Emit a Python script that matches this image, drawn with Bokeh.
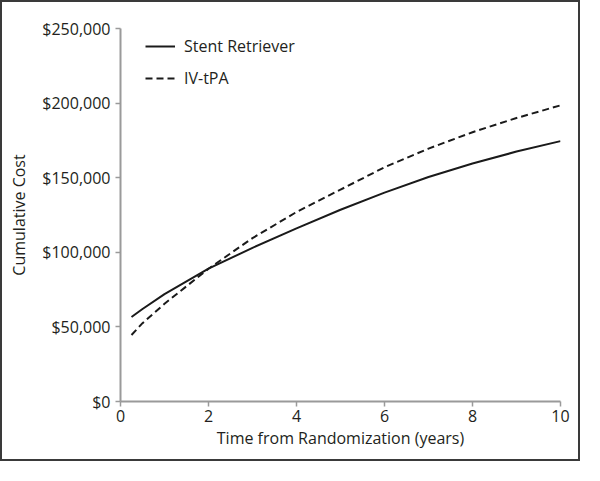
from bokeh.plotting import figure
from bokeh.models import ColumnDataSource, Range1d, NumeralTickFormatter, FixedTicker, Legend, LegendItem
from bokeh.embed import file_html
from bokeh.resources import INLINE

# Data
years = [0.25, 0.5, 1, 2, 3, 4, 5, 6, 7, 8, 9, 10]
stent_retriever = [56600, 62000, 72000, 89000, 103000, 116000, 128500, 140000, 150500, 159500, 167500, 174500]
iv_tpa = [44600, 52500, 65500, 89000, 109500, 127000, 142000, 157000, 169500, 180500, 190000, 198500]

x_ticks = [0, 2, 4, 6, 8, 10]
y_ticks = [0, 50000, 100000, 150000, 200000, 250000]

FONT = "Open Sans"
TEXT = "#231f20"
AXIS = "#9a9a9a"

p = figure(width=580, height=461, output_backend="svg", toolbar_location=None,
           x_range=Range1d(0, 10), y_range=Range1d(0, 250000),
           min_border_left=118, min_border_right=22, min_border_top=26, min_border_bottom=62)
p.styles = {"border": "2px solid #3a3a3a"}
p.outline_line_color = None
p.xgrid.visible = False
p.ygrid.visible = False
p.background_fill_color = "white"
p.border_fill_color = "white"

src = ColumnDataSource(dict(x=years, sr=stent_retriever, iv=iv_tpa))
r1 = p.line("x", "sr", source=src, line_color="#1a1a1a", line_width=2)
r2 = p.line("x", "iv", source=src, line_color="#1a1a1a", line_width=2, line_dash="7 4")

p.xaxis.ticker = FixedTicker(ticks=x_ticks)
p.yaxis.ticker = FixedTicker(ticks=y_ticks)
p.yaxis.formatter = NumeralTickFormatter(format="$0,0")
p.xaxis.axis_label = "Time from Randomization (years)"
p.yaxis.axis_label = "Cumulative Cost"

for ax in (p.xaxis, p.yaxis):
    ax.axis_line_color = AXIS
    ax.axis_line_width = 2
    ax.major_tick_line_color = AXIS
    ax.major_tick_line_width = 1.5
    ax.major_tick_out = 5
    ax.major_tick_in = 0
    ax.minor_tick_line_color = None
    ax.major_label_text_font = FONT
    ax.major_label_text_font_size = "16px"
    ax.major_label_text_color = TEXT
    ax.axis_label_text_font = FONT
    ax.axis_label_text_font_size = "16px"
    ax.axis_label_text_font_style = "normal"
    ax.axis_label_text_color = TEXT

p.xaxis.major_label_standoff = 3
p.yaxis.major_label_standoff = 5
p.xaxis.axis_label_standoff = 2
p.yaxis.axis_label_standoff = 9

legend = Legend(items=[LegendItem(label="Stent Retriever", renderers=[r1]),
                       LegendItem(label="IV-tPA", renderers=[r2])],
                location=(25, 312), margin=0, padding=0, spacing=10,
                glyph_width=30, glyph_height=20, label_standoff=9,
                border_line_color=None, background_fill_alpha=0,
                label_text_font=FONT, label_text_font_size="16px", label_text_color=TEXT)
p.add_layout(legend)

open("out.html", "w").write(file_html(p, INLINE))
